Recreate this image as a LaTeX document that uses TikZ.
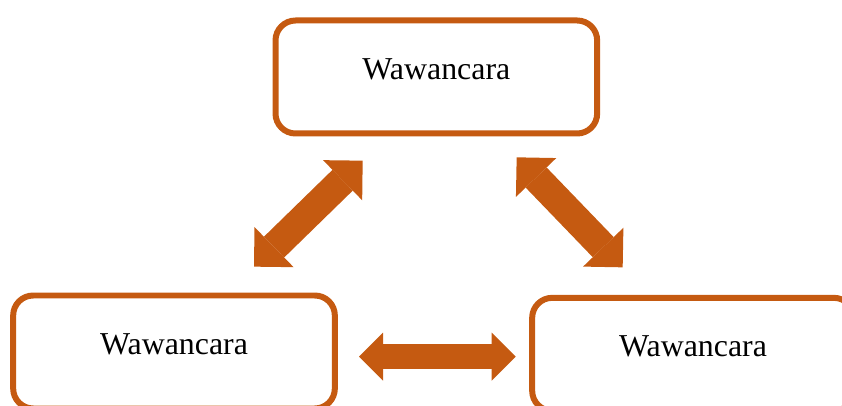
\documentclass[tikz,border=0pt]{standalone}
\usepackage{fontspec}
\setmainfont{Liberation Serif}
\usepackage{tikz}
\usetikzlibrary{arrows.meta}
\definecolor{oranye}{RGB}{197,90,17}
\tikzset{
        kotak/.style={draw=oranye, line width=0.18cm, rounded corners=0.6cm,
                minimum width=9.65cm, minimum height=3.39cm, text depth=0.5cm,
                font=\fontsize{27.2pt}{32pt}\selectfont},
        panah/.style={oranye, line width=0.87cm, {Triangle[length=0.84cm,width=1.68cm,line width=0pt]}-{Triangle[length=0.84cm,width=1.68cm,line width=0pt]}},
        panahdatar/.style={oranye, line width=0.75cm, {Triangle[length=0.72cm,width=1.44cm,line width=0pt]}-{Triangle[length=0.72cm,width=1.44cm,line width=0pt]}}
}

\begin{document}
\begin{tikzpicture}
        \useasboundingbox (0,0) rectangle (25.26,12.15);
        \node[kotak] (atas) at (13.09,9.84) {Wawancara};
        \node[kotak] (kiri) at (5.22,1.59) {Wawancara};
        \node[kotak] (kanan) at (20.79,1.52) {Wawancara};
        \coordinate (a1) at (10.88,7.33);
        \coordinate (a2) at (7.62,4.15);
        \coordinate (b1) at (15.50,7.43);
        \coordinate (b2) at (18.68,4.13);
        \coordinate (c1) at (10.77,1.45);
        \coordinate (c2) at (15.47,1.45);
        \draw[panah] (a1) -- (a2);
        \draw[panah] (b1) -- (b2);
        \draw[panahdatar] (c1) -- (c2);
\end{tikzpicture}
\end{document}
